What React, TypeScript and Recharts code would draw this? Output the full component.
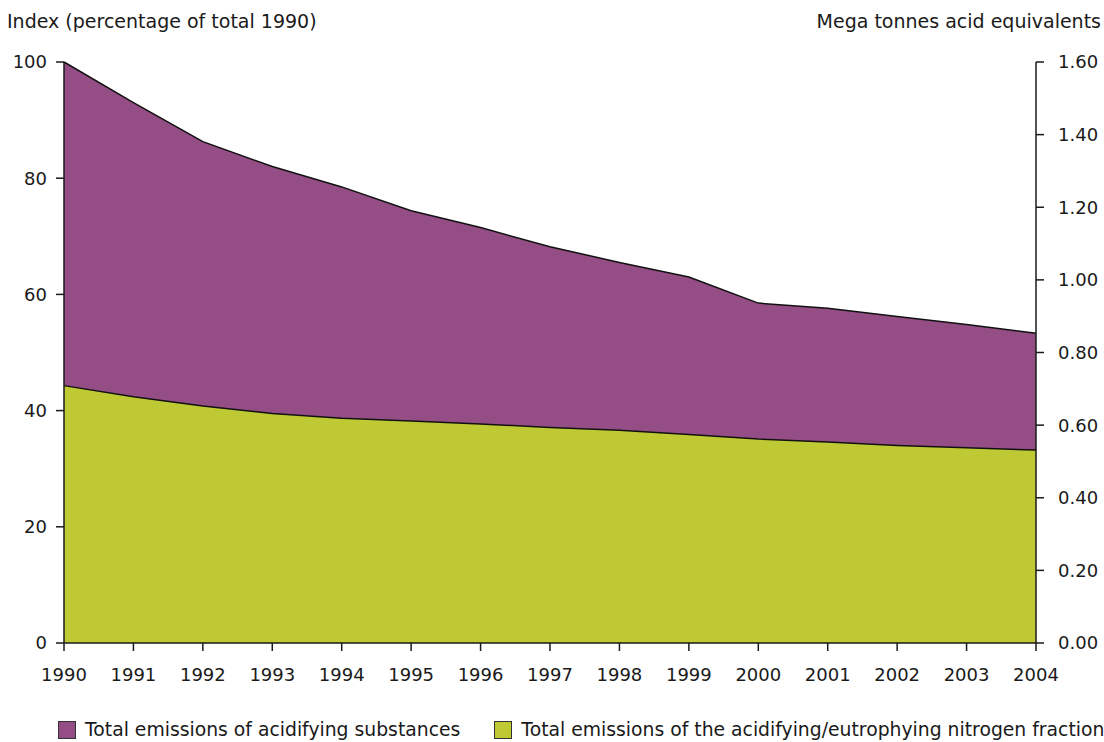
import React from "react";
import { AreaChart, Area, XAxis, YAxis } from "recharts";

const years = ["1990", "1991", "1992", "1993", "1994", "1995", "1996", "1997", "1998", "1999", "2000", "2001", "2002", "2003", "2004"];
const acidifying = [100, 93, 86.3, 82, 78.5, 74.4, 71.5, 68.2, 65.5, 63, 58.5, 57.6, 56.2, 54.8, 53.3];
const nitrogen = [44.3, 42.4, 40.8, 39.5, 38.7, 38.2, 37.7, 37.1, 36.6, 35.9, 35.1, 34.6, 34.0, 33.6, 33.2];
const indexTicks = [0, 20, 40, 60, 80, 100];
const tonnesTicks = [0, 0.2, 0.4, 0.6, 0.8, 1.0, 1.2, 1.4, 1.6];

const PURPLE = "#954E85";
const GREEN = "#BFC933";
const AXIS = "#1a1a1a";
const FONT = "'DejaVu Sans', Verdana, sans-serif";

const data = years.map((year, i) => ({
  year,
  acidifying: acidifying[i],
  nitrogen: nitrogen[i],
}));

const tickStyle = { fill: "#1a1a1a", fontSize: 18, fontFamily: FONT };

export default function App() {
  const legendItems = [
    { name: "Total emissions of acidifying substances", color: PURPLE },
    { name: "Total emissions of the acidifying/eutrophying nitrogen fraction", color: GREEN },
  ];

  return (
    <div
      style={{
        position: "absolute",
        left: 0,
        top: 0,
        width: 1104,
        height: 742,
        background: "#fff",
        fontFamily: FONT,
        color: "#1a1a1a",
        overflow: "hidden",
      }}
    >
      <div style={{ position: "absolute", left: 7, top: 9, fontSize: 19, lineHeight: "24px" }}>
        Index (percentage of total 1990)
      </div>
      <div style={{ position: "absolute", right: 3, top: 9, fontSize: 19, lineHeight: "24px" }}>
        Mega tonnes acid equivalents
      </div>

      <AreaChart
        width={1104}
        height={742}
        data={data}
        margin={{ top: 62, right: 0, left: 0, bottom: 59 }}
      >
        <XAxis
          dataKey="year"
          height={40}
          tick={tickStyle}
          tickSize={8}
          tickMargin={17}
          axisLine={{ stroke: AXIS, strokeWidth: 1.5 }}
          tickLine={{ stroke: AXIS, strokeWidth: 1.5 }}
          interval={0}
        />
        <YAxis
          yAxisId="left"
          width={64}
          domain={[0, 100]}
          ticks={indexTicks}
          tick={tickStyle}
          tickSize={8}
          tickMargin={9}
          axisLine={{ stroke: AXIS, strokeWidth: 1.5 }}
          tickLine={{ stroke: AXIS, strokeWidth: 1.5 }}
        />
        <YAxis
          yAxisId="right"
          orientation="right"
          type="number"
          width={68}
          domain={[0, 1.6]}
          allowDataOverflow
          ticks={tonnesTicks}
          interval={0}
          tickFormatter={(v: number) => v.toFixed(2)}
          tick={tickStyle}
          tickSize={8}
          tickMargin={14}
          axisLine={{ stroke: AXIS, strokeWidth: 1.5 }}
          tickLine={{ stroke: AXIS, strokeWidth: 1.5 }}
        />
        <Area
          yAxisId="left"
          type="linear"
          dataKey="acidifying"
          name="Total emissions of acidifying substances"
          fill={PURPLE}
          fillOpacity={1}
          stroke="#111"
          strokeWidth={1.5}
          isAnimationActive={false}
        />
        <Area
          yAxisId="left"
          type="linear"
          dataKey="nitrogen"
          name="Total emissions of the acidifying/eutrophying nitrogen fraction"
          fill={GREEN}
          fillOpacity={1}
          stroke="#111"
          strokeWidth={1.5}
          isAnimationActive={false}
        />
      </AreaChart>

      <div
        style={{
          position: "absolute",
          left: 58,
          top: 719,
          display: "flex",
          alignItems: "center",
          gap: 34,
          fontSize: 18.8,
          lineHeight: "22px",
          whiteSpace: "nowrap",
        }}
      >
        {legendItems.map((item) => (
          <div key={item.name} style={{ display: "flex", alignItems: "center", gap: 9 }}>
            <div
              style={{
                width: 16,
                height: 16,
                background: item.color,
                border: "1px solid #333",
              }}
            />
            <span>{item.name}</span>
          </div>
        ))}
      </div>
    </div>
  );
}
